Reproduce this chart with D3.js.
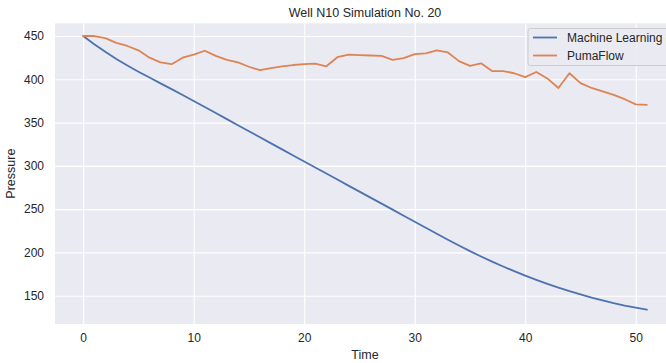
<!DOCTYPE html>
<html>
<head>
<meta charset="utf-8">
<script src="https://cdn.jsdelivr.net/npm/d3@7"></script>
<style>
  html, body { margin: 0; padding: 0; background: #ffffff; }
  svg { display: block; }
  text { font-family: "Liberation Sans", Arial, sans-serif; fill: #262626; }
</style>
</head>
<body>
<svg id="chart" width="666" height="363"></svg>
<script>
const title = "Well N10 Simulation No. 20";
const xLabel = "Time";
const yLabel = "Pressure";
const seriesNames = ["Machine Learning", "PumaFlow"];
const seriesColors = ["#4c72b0", "#dd8452"];

const time = d3.range(0, 52);
const machineLearning = [
  450, 440.5, 431.7, 423.5, 415.9, 408.8, 402.0, 395.3, 388.6, 381.8,
  375.0, 368.0, 361.0, 354.0, 347.0, 340.0, 333.0, 326.0, 319.0, 312.0,
  305.0, 298.05, 291.1, 284.15, 277.2, 270.25, 263.3, 256.35, 249.4, 242.45,
  235.5, 228.55, 221.6, 214.65, 207.95, 201.5, 195.3, 189.4, 183.7, 178.3,
  173.2, 168.3, 163.7, 159.3, 155.2, 151.4, 147.8, 144.5, 141.4, 138.6,
  136.1, 133.8
];
const pumaFlow = [
  450, 450, 447.5, 442, 438.5, 433.5, 425, 419.5, 417.5, 425,
  428.5, 433, 427, 422.5, 419.5, 414.5, 410.5, 413, 415, 416.5,
  417.5, 418, 415, 425.5, 428.5, 428, 427.5, 427, 422.5, 424.5,
  429, 430, 433.5, 431, 421, 415.5, 418.5, 409.5, 409.5, 407,
  402.5, 408.5, 401, 390, 407, 395.5, 390, 386, 382, 377,
  371, 370.5
];
const xTicks = [0, 10, 20, 30, 40, 50];
const yTicks = [150, 200, 250, 300, 350, 400, 450];

const svg = d3.select("#chart");
const plot = { left: 55, top: 23.3, right: 675, bottom: 324 };

const x = d3.scaleLinear().domain([-2.55, 53.55]).range([plot.left, plot.right]);
const y = d3.scaleLinear().domain([117.3, 464.7]).range([plot.bottom, plot.top]);

// background
svg.append("rect")
  .attr("x", plot.left).attr("y", plot.top)
  .attr("width", plot.right - plot.left).attr("height", plot.bottom - plot.top)
  .attr("fill", "#eaeaf2");

// grid via axes
const gx = svg.append("g")
  .attr("transform", `translate(0,${plot.bottom})`)
  .call(d3.axisBottom(x).tickValues(xTicks).tickSize(-(plot.bottom - plot.top)).tickPadding(9).tickFormat(d3.format("d")));
const gy = svg.append("g")
  .attr("transform", `translate(${plot.left},0)`)
  .call(d3.axisLeft(y).tickValues(yTicks).tickSize(-(plot.right - plot.left)).tickPadding(11).tickFormat(d3.format("d")));
[gx, gy].forEach(g => {
  g.select(".domain").remove();
  g.selectAll(".tick line").attr("stroke", "#ffffff").attr("stroke-width", 1.1);
  g.selectAll(".tick text").attr("font-size", 12).style("font-family", "'Liberation Sans', Arial, sans-serif").attr("fill", "#262626");
});

// lines
const line = d3.line().x((d, i) => x(time[i])).y(d => y(d));
[machineLearning, pumaFlow].forEach((s, k) => {
  svg.append("path")
    .datum(s)
    .attr("d", line)
    .attr("fill", "none")
    .attr("stroke", seriesColors[k])
    .attr("stroke-width", 1.8)
    .attr("stroke-linejoin", "round")
    .attr("stroke-linecap", "round");
});

// title and labels
svg.append("text")
  .attr("x", (plot.left + plot.right) / 2).attr("y", 17)
  .attr("text-anchor", "middle").attr("font-size", 12.5)
  .text(title);
svg.append("text")
  .attr("x", (plot.left + plot.right) / 2).attr("y", 359)
  .attr("text-anchor", "middle").attr("font-size", 12.5)
  .text(xLabel);
svg.append("text")
  .attr("transform", `translate(15,${(plot.top + plot.bottom) / 2}) rotate(-90)`)
  .attr("text-anchor", "middle").attr("font-size", 12.5)
  .text(yLabel);

// legend
const lg = svg.append("g").attr("transform", "translate(528,28.5)");
lg.append("rect")
  .attr("x", 0).attr("y", 0).attr("width", 142).attr("height", 37)
  .attr("rx", 2.5)
  .attr("fill", "#eaeaf2").attr("fill-opacity", 0.8)
  .attr("stroke", "#cccccc").attr("stroke-width", 1);
seriesNames.forEach((name, i) => {
  const cy = 9 + i * 18;
  lg.append("line")
    .attr("x1", 5).attr("x2", 29).attr("y1", cy).attr("y2", cy)
    .attr("stroke", seriesColors[i]).attr("stroke-width", 1.8);
  lg.append("text")
    .attr("x", 39).attr("y", cy)
    .attr("dy", "0.35em").attr("font-size", 12)
    .text(name);
});
</script>
</body>
</html>
